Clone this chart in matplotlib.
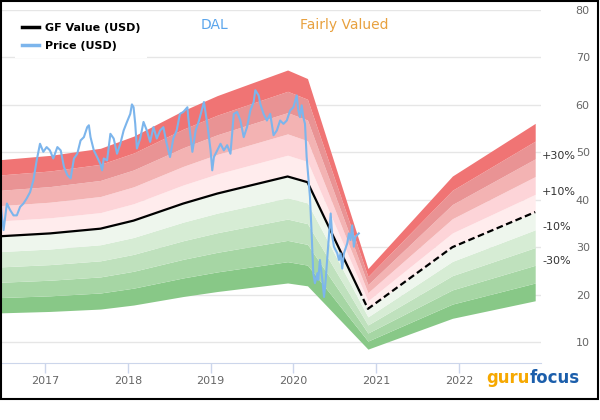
import matplotlib
matplotlib.use('Agg')
import matplotlib.pyplot as plt
import numpy as np
from matplotlib.patches import Rectangle
from matplotlib.lines import Line2D

# GF Value (USD), decimal years
gf_years = [2016.46, 2017.06, 2017.67, 2018.07, 2018.67, 2019.08, 2019.48, 2019.93,
            2020.17, 2020.90, 2021.92, 2022.92]
gf_values = [32.3, 32.9, 33.9, 35.6, 39.2, 41.3, 43.0, 44.9, 43.7, 17.0, 30.0, 37.4]
today = 2020.79  # GF Value is dashed after this date

# DAL closing price (USD)
price_years = [
    2016.46, 2016.48, 2016.50, 2016.52, 2016.54, 2016.58, 2016.62, 2016.66, 2016.70, 2016.74,
    2016.78, 2016.82, 2016.86, 2016.90, 2016.94, 2016.98, 2017.02, 2017.06, 2017.10, 2017.15,
    2017.19, 2017.23, 2017.27, 2017.31, 2017.35, 2017.39, 2017.43, 2017.47, 2017.51, 2017.53,
    2017.55, 2017.59, 2017.63, 2017.67, 2017.69, 2017.71, 2017.75, 2017.79, 2017.83, 2017.87,
    2017.91, 2017.95, 2017.99, 2018.03, 2018.05, 2018.07, 2018.09, 2018.11, 2018.15, 2018.19,
    2018.23, 2018.27, 2018.31, 2018.35, 2018.39, 2018.43, 2018.47, 2018.51, 2018.55, 2018.59,
    2018.63, 2018.67, 2018.72, 2018.73, 2018.78, 2018.82, 2018.86, 2018.92, 2018.96, 2019.00,
    2019.02, 2019.04, 2019.08, 2019.12, 2019.16, 2019.20, 2019.24, 2019.28, 2019.32, 2019.36,
    2019.40, 2019.44, 2019.48, 2019.52, 2019.54, 2019.58, 2019.60, 2019.64, 2019.68, 2019.72,
    2019.76, 2019.80, 2019.84, 2019.88, 2019.92, 2019.96, 2020.00, 2020.04, 2020.06, 2020.08,
    2020.10, 2020.12, 2020.14, 2020.16, 2020.18, 2020.20, 2020.22, 2020.24, 2020.26, 2020.29,
    2020.30, 2020.32, 2020.35, 2020.37, 2020.39, 2020.41, 2020.45, 2020.47, 2020.49, 2020.53,
    2020.55, 2020.57, 2020.59, 2020.61, 2020.65, 2020.67, 2020.69, 2020.71, 2020.73, 2020.75,
    2020.79]
price_values = [
    39.9, 36.4, 33.6, 36.4, 39.2, 37.8, 36.7, 36.7, 38.5, 39.2,
    40.3, 41.6, 44.1, 48.3, 51.8, 50.1, 51.1, 50.4, 48.7, 51.1,
    50.4, 46.9, 45.2, 44.5, 48.7, 49.7, 52.5, 53.2, 55.3, 55.7,
    53.2, 50.4, 49.0, 47.5, 46.2, 48.7, 48.3, 53.9, 52.9, 49.7,
    51.8, 54.6, 56.4, 58.1, 60.1, 59.5, 56.0, 50.8, 52.9, 56.4,
    54.6, 52.2, 55.3, 52.9, 54.6, 55.3, 51.8, 49.0, 52.9, 54.6,
    58.1, 58.5, 59.5, 57.4, 50.1, 54.6, 56.7, 60.6, 56.0, 50.4,
    46.2, 49.0, 50.4, 51.8, 50.4, 51.5, 49.7, 58.1, 58.5, 56.7,
    53.2, 55.3, 58.8, 60.6, 63.1, 62.0, 60.2, 58.1, 56.7, 58.1,
    53.6, 54.6, 56.7, 56.0, 56.7, 58.8, 59.5, 62.0, 58.8, 57.4,
    59.9, 57.4, 56.0, 49.0, 44.8, 40.6, 32.9, 24.5, 22.4, 24.5,
    23.1, 27.3, 23.1, 19.5, 23.1, 28.0, 37.1, 32.2, 30.1, 28.7,
    27.3, 28.7, 25.5, 28.7, 30.8, 32.9, 31.5, 34.6, 30.1, 32.2,
    32.9]

# valuation bands as multiples of GF Value
band_edges = [0.5, 0.6, 0.7, 0.8, 0.9, 1.0, 1.1, 1.2, 1.3, 1.4, 1.5]
band_colors = ['#88c887', '#a6d6a4', '#bfe1bd', '#d6ecd4', '#eef6ed',
               '#ffeced', '#fdd4d8', '#f3b3b3', '#e99394', '#f07474']

pct_labels = ['+30%', '+10%', '-10%', '-30%']
pct_label_y = [49.2, 41.6, 34.2, 27.1]

year_ticks = [2017, 2018, 2019, 2020, 2021, 2022]
value_ticks = [10, 20, 30, 40, 50, 60, 70, 80]

fig = plt.figure(figsize=(6, 4.2), dpi=100)
ax = fig.add_axes([1 / 600, 1 - 363 / 420, 540 / 600, 353 / 420])

gf = np.array(gf_values)
for i, c in enumerate(band_colors):
    ax.fill_between(gf_years, gf * band_edges[i], gf * band_edges[i + 1],
                    color=c, lw=0, zorder=1)

# GF Value line, solid up to today and dashed for the projection
gy = np.array(gf_years)
past = gy < today
split_val = np.interp(today, gy, gf)
ax.plot(list(gy[past]) + [today], list(gf[past]) + [split_val], color='black', lw=1.6, zorder=3)
ax.plot([today] + list(gy[~past]), [split_val] + list(gf[~past]), color='black', lw=1.6,
        ls=(0, (3, 1.6)), zorder=3)

ax.plot(price_years, price_values, color='#7cb5ec', lw=1.5, zorder=4)

ax.set_xlim(2016.469, 2022.99)
ax.set_ylim(5.58, 80)
ax.set_xticks(year_ticks)
ax.set_xticklabels([str(y) for y in year_ticks])
ax.set_yticks(value_ticks)
ax.yaxis.tick_right()
ax.yaxis.grid(True, color='#e6e6e6', lw=1)
ax.set_axisbelow(True)
for s in ['top', 'left', 'right']:
    ax.spines[s].set_visible(False)
ax.spines['bottom'].set_color('#ccd6eb')
ax.tick_params(axis='x', colors='#ccd6eb', length=7, width=1, pad=2, labelcolor='#666666',
               labelsize=8)
ax.tick_params(axis='y', length=0, pad=25, labelcolor='#666666', labelsize=8)
ax.patch.set_alpha(0)

for lab, yv in zip(pct_labels, pct_label_y):
    ax.text(1.002, yv, lab, transform=ax.get_yaxis_transform(), fontsize=8,
            color='#333333', va='center', ha='left')

handles = [Line2D([], [], color='black', lw=2.5), Line2D([], [], color='#7cb5ec', lw=2.5)]
leg = ax.legend(handles, ['GF Value (USD)', 'Price (USD)'], loc='upper left',
                bbox_to_anchor=(15 / 600, 1 - 16 / 420), bbox_transform=fig.transFigure,
                prop={'weight': 'bold', 'size': 8}, frameon=True, facecolor='white',
                edgecolor='none', framealpha=1, fancybox=False, borderaxespad=0,
                handlelength=1.6, handletextpad=0.5, labelspacing=0.75, borderpad=0.6)
leg.set_zorder(10)

fig.text(214 / 600, 1 - 25 / 420, 'DAL', color='#5aa5ec', fontsize=10, ha='center', va='center')
fig.text(300 / 600, 1 - 25 / 420, 'Fairly Valued', color='#e8a13f', fontsize=10,
         ha='left', va='center')

# gurufocus logo, sized to span about 486..580 px
renderer = fig.canvas.get_renderer()
guru = fig.text(486 / 600, 1 - 383 / 420, 'guru', color='#f6a800', fontsize=14,
                fontweight='bold', ha='left', va='baseline')
focus = fig.text(0, 1 - 383 / 420, 'focus', color='#1b5eab', fontsize=14,
                 fontweight='bold', ha='left', va='baseline')
w_total = (guru.get_window_extent(renderer).width + focus.get_window_extent(renderer).width)
fs = 14 * 94 / w_total
guru.set_fontsize(fs)
focus.set_fontsize(fs)
gx1 = guru.get_window_extent(renderer).x1
focus.set_x(gx1 / 600)

fig.patches.append(Rectangle((1 / 600, 21 / 420), 597 / 600, 398 / 420, fill=False,
                             edgecolor='black', lw=1.5, transform=fig.transFigure))

fig.savefig('out.png', dpi=100)
